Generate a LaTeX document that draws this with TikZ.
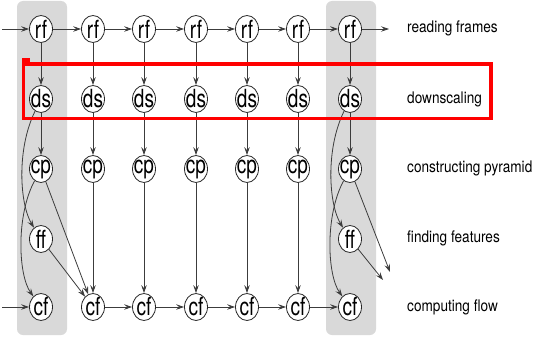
\documentclass[tikz,border=0pt]{standalone}
\usepackage{fontspec}
\setmainfont[FakeStretch=0.85]{TeX Gyre Heros}
\newfontfamily\nodefont[FakeStretch=0.76]{TeX Gyre Heros}
\usetikzlibrary{shapes.geometric,arrows.meta}
\definecolor{band}{HTML}{D9D9D9}
\definecolor{wire}{HTML}{3C3C3C}
\definecolor{hilite}{HTML}{FF0000}
\tikzset{
  stage/.style={ellipse, draw=black!85, line width=0.8pt, fill=white,
    minimum width=23pt, minimum height=27pt, inner sep=-3pt,
    font=\nodefont\fontsize{25}{25}\selectfont},
  flow/.style={draw=wire, line width=0.8pt,
    -{Stealth[length=8pt,width=5.5pt,inset=3pt]}},
  rowlabel/.style={anchor=west, inner sep=0pt, font=\fontsize{16}{17}\selectfont},
  lane/.style={fill=band, rounded corners=6pt}
}
\begin{document}
\begin{tikzpicture}[x=1pt,y=-1pt]
\useasboundingbox (0,0) rectangle (538,337);
% highlighted lanes for the first and last frame
\fill[lane] (17,1) rectangle (67,335);
\fill[lane] (326,1) rectangle (376,335);
% pipeline stages, one column per frame
\foreach \i/\x in {1/41,2/93,3/144,4/196,5/247,6/298,7/350}{
  \node[stage] (rf\i) at (\x,29)  {rf};
  \node[stage] (ds\i) at (\x,99)  {ds};
  \node[stage] (cp\i) at (\x,169) {cp};
  \node[stage] (cf\i) at (\x,307) {cf};
}
\node[stage] (ff1) at (41,239)  {ff};
\node[stage] (ff7) at (350,239) {ff};
% loose ends
\coordinate (inrf) at (2,29);
\coordinate (incf) at (2,307);
\coordinate (outrf) at (389,29);
\coordinate (outcp) at (390,272);
\coordinate (outff) at (383,280);
% frame reading chain
\draw[flow] (inrf) -- (rf1);
\foreach \a/\b in {1/2,2/3,3/4,4/5,5/6,6/7}{
  \draw[flow] (rf\a) -- (rf\b);
}
\draw[flow] (rf7) -- (outrf);
% flow chain
\draw[flow] (incf) -- (cf1);
\foreach \a/\b in {2/3,3/4,4/5,5/6,6/7}{
  \draw[flow] (cf\a) -- (cf\b);
}
% per-frame vertical steps
\foreach \i in {1,...,7}{
  \draw[flow] (rf\i) -- (ds\i);
  \draw[flow] (ds\i) -- (cp\i);
}
\foreach \i in {2,...,6}{
  \draw[flow] (cp\i) -- (cf\i);
}
% first frame: features and flow
\draw[flow] (ds1) .. controls (16,150) and (20,205) .. (ff1);
\draw[flow] (cp1) .. controls (16,215) and (18,275) .. (cf1);
\draw[flow] (cp1) -- (cf2);
\draw[flow] (ff1) -- (cf2);
% last frame: features and flow
\draw[flow] (ds7) .. controls (325,150) and (329,205) .. (ff7);
\draw[flow] (cp7) .. controls (325,215) and (327,275) .. (cf7);
\draw[flow] (cp7) -- (outcp);
\draw[flow] (ff7) -- (outff);
% stage names
\node[rowlabel] (l1) at (407,28)  {reading frames};
\node[rowlabel] (l2) at (407,99)  {downscaling};
\node[rowlabel] (l3) at (407,168) {constructing pyramid};
\node[rowlabel] (l4) at (407,238) {finding features};
\node[rowlabel] (l5) at (407,307) {computing flow};
% highlight around the downscaling row
\draw[hilite, line width=3.5pt] (23.5,64) rectangle (491,118.5);
\fill[hilite] (21.75,58.5) rectangle (30,64);
\end{tikzpicture}
\end{document}
